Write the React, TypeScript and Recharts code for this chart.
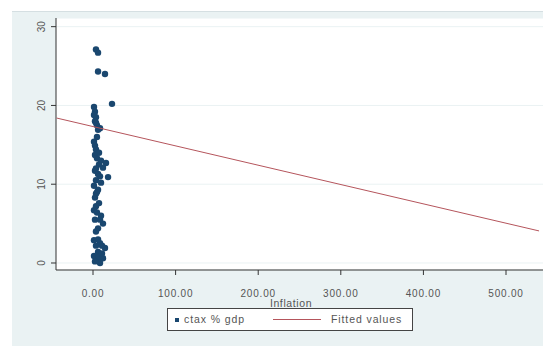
import { ScatterChart, Scatter, XAxis, YAxis, CartesianGrid } from "recharts";

// inflation (x) and ctax % gdp (y)
const inflation = [
  3.6, 6.1, 6.1, 14.5, 23, 1.2, 2.4, 3.6, 2.4, 4.8, 8.5, 6.1, 1.2, 2.4, 3.6, 2.4, 4.8, 15.7, 7.3, 12.1,
  2.4, 6.1, 18.2, 3.6, 9.7, 1.2, 6.1, 3.6, 2.4, 7.3, 1.2, 4.8, 9.7, 2.4, 12.1, 6.1, 1.2, 8.5, 3.6, 14.5,
  6.1, 1.2, 12.1, 4.8, 8.5, 1.2, 3.6, 4.8, 7.3, 9.7, 3.6, 8.5, 4.8, 3.6, 8.5, 3.6, 6.1, 10.9, 7.3, 2.4, 10.9,
];
const ctax = [
  27.1, 26.7, 24.3, 24.0, 20.2, 19.8, 19.2, 18.5, 18.0, 17.5, 17.1, 16.9, 15.4, 14.9, 14.4, 13.7, 13.3, 12.7, 12.5, 12.1,
  11.7, 11.3, 10.9, 10.5, 10.2, 9.8, 9.3, 8.8, 8.3, 7.6, 6.7, 6.4, 6.0, 5.5, 5.0, 4.4, 2.9, 2.5, 2.2, 1.9,
  1.4, 0.9, 0.6, 0.3, 0.0, 18.8, 17.8, 16.0, 14.0, 13.0, 12.0, 11.0, 9.0, 7.2, 5.5, 4.0, 3.0, 2.2, 0.8, 0.2, 1.2,
];

// fitted values line ends
const fitX = [-44, 540];
const fitY = [18.4, 4.07];

const xTicks = [0, 100, 200, 300, 400, 500];
const yTicks = [0, 10, 20, 30];

const points = inflation.map((x, i) => ({ x, y: ctax[i] }));
const fitted = fitX.map((x, i) => ({ x, y: fitY[i] }));

const navy = "#1a476f";
const maroon = "#b5555c";
const font = "'Liberation Sans', Arial, sans-serif";

function YTick(props: any) {
  const { x, y, payload } = props;
  return (
    <text
      x={x - 4}
      y={y}
      transform={`rotate(-90 ${x - 4} ${y})`}
      textAnchor="middle"
      fontSize={10}
      fontFamily={font}
      fill="#555"
    >
      {payload.value}
    </text>
  );
}

function XTick(props: any) {
  const { x, y, payload } = props;
  return (
    <text x={x} y={y + 20} textAnchor="middle" fontSize={10} letterSpacing={0.8} fontFamily={font} fill="#555">
      {payload.value.toFixed(2)}
    </text>
  );
}

function Dot(props: any) {
  return <circle cx={props.cx} cy={props.cy} r={3.2} fill={navy} />;
}

function NoDot() {
  return <g />;
}

export default function App() {
  return (
    <div style={{ position: "absolute", left: 0, top: 0, width: 543, height: 347, overflow: "hidden", background: "#fff" }}>
      <div
        style={{
          position: "absolute",
          left: 12,
          top: 11,
          width: 540,
          height: 334,
          background: "#eaf2f3",
          borderTop: "1px solid #d5dfe2",
        }}
      />
      <div style={{ position: "absolute", left: 0, top: 0 }}>
        <ScatterChart width={620} height={347} margin={{ top: 18, right: 0, bottom: 37, left: 10 }}>
          <CartesianGrid vertical={false} stroke="#eaf2f3" fill="#fff" />
          <XAxis
            type="number"
            dataKey="x"
            domain={[-44.8, 638]}
            ticks={xTicks}
            height={40}
            tickSize={5}
            stroke="#333"
            tick={<XTick />}
            allowDataOverflow
            label={{
              content: () => (
                <text x={291} y={307} textAnchor="middle" fontSize={10.5} letterSpacing={0.6} fontFamily={font} fill="#555">
                  Inflation
                </text>
              ),
            }}
          />
          <YAxis
            type="number"
            dataKey="y"
            domain={[-0.89, 31.1]}
            ticks={yTicks}
            width={46}
            tickSize={5}
            stroke="#333"
            tick={<YTick />}
            allowDataOverflow
          />
          <Scatter data={points} fill={navy} shape={<Dot />} isAnimationActive={false} />
          <Scatter
            data={fitted}
            line={{ stroke: maroon, strokeWidth: 1 }}
            shape={<NoDot />}
            isAnimationActive={false}
          />
        </ScatterChart>
      </div>
      <div
        style={{
          position: "absolute",
          left: 167,
          top: 308,
          width: 244,
          height: 21,
          background: "#fff",
          border: "1px solid #444",
          fontFamily: font,
          fontSize: 10.5,
          letterSpacing: 0.9,
          color: "#555",
        }}
      >
        <div style={{ position: "absolute", left: 7, top: 9, width: 4, height: 4, background: navy }} />
        <div style={{ position: "absolute", left: 16, top: 4 }}>ctax % gdp</div>
        <div style={{ position: "absolute", left: 105, top: 10, width: 48, height: 1, background: maroon }} />
        <div style={{ position: "absolute", left: 163, top: 4 }}>Fitted values</div>
      </div>
    </div>
  );
}
